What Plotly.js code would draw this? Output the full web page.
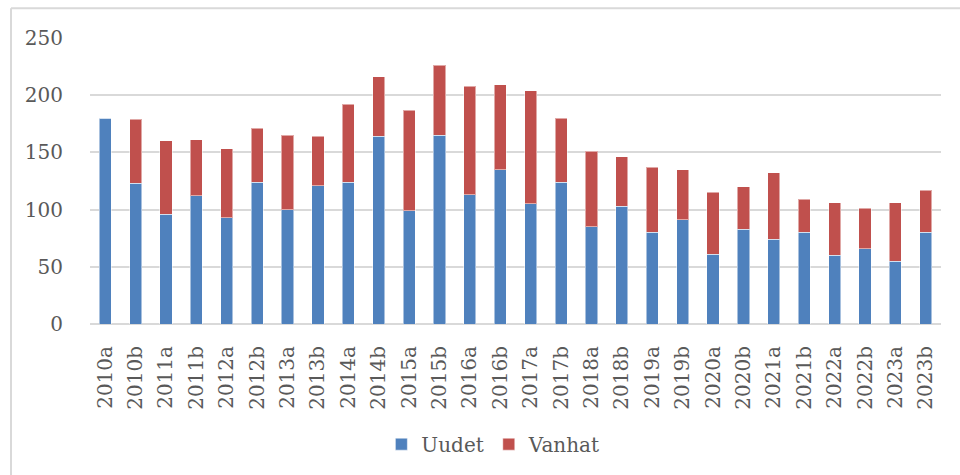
<!DOCTYPE html>
<html>
<head>
<meta charset="utf-8">
<script src="https://cdn.plot.ly/plotly-3.0.1.min.js"></script>
<style>html,body{margin:0;padding:0;background:#fff;}#chart{width:960px;height:475px;}</style>
</head>
<body>
<div id="chart"></div>
<script>
const categories = ["2010a","2010b","2011a","2011b","2012a","2012b","2013a","2013b","2014a","2014b","2015a","2015b","2016a","2016b","2017a","2017b","2018a","2018b","2019a","2019b","2020a","2020b","2021a","2021b","2022a","2022b","2023a","2023b"];
const uudet = [180,123,96,112,93,124,100,121,124,164,99,165,113,135,105,124,85,103,80,91,61,83,74,80,60,66,55,80];
const vanhat = [0,56,64,49,60,47,65,43,68,52,88,61,95,74,99,56,66,43,57,44,54,37,58,29,46,35,51,37];
const yTicks = [0,50,100,150,200,250];

const fontFam = '"DejaVu Serif", "Liberation Serif", serif';
const data = [
  {type:'bar', name:'Uudet', x:categories, y:uudet, marker:{color:'#4f81bd', line:{color:'rgba(255,255,255,0.5)', width:1}}, width:0.4},
  {type:'bar', name:'Vanhat', x:categories, y:vanhat, marker:{color:'#c0504d', line:{color:'rgba(255,255,255,0.5)', width:1}}, width:0.4}
];
const W = 851, H = 288;
const layout = {
  width:960, height:475,
  margin:{l:90, r:19, t:38, b:149},
  barmode:'stack',
  paper_bgcolor:'#ffffff', plot_bgcolor:'#ffffff',
  font:{family:fontFam, size:20, color:'#595959'},
  showlegend:true,
  legend:{orientation:'h', x:0.474, xanchor:'center', y:(326-447)/H, yanchor:'middle', font:{family:fontFam, size:20, color:'#595959'}, itemwidth:30, traceorder:'normal'},
  xaxis:{type:'category', tickangle:-90, ticks:'outside', ticklen:13, tickcolor:'rgba(0,0,0,0)', showgrid:false, showline:false, zeroline:false, tickfont:{family:fontFam, size:20, color:'#595959'}},
  yaxis:{range:[0,250], tickvals:yTicks, ticktext:yTicks.map(String), showgrid:true, gridcolor:'#d9d9d9', gridwidth:2, zeroline:true, zerolinecolor:'#d9d9d9', zerolinewidth:2, showline:false, ticks:'outside', ticklen:22, tickcolor:'rgba(0,0,0,0)', tickfont:{family:fontFam, size:20, color:'#595959'}},
  shapes:[
    {type:'line', xref:'paper', yref:'paper', x0:(11-90)/W, x1:(11-90)/W, y0:(326-8)/H, y1:(326-480)/H, line:{color:'#d9d9d9', width:2}},
    {type:'line', xref:'paper', yref:'paper', x0:(11-90)/W, x1:(965-90)/W, y0:(326-8)/H, y1:(326-8)/H, line:{color:'#d9d9d9', width:2}}
  ]
};
Plotly.newPlot('chart', data, layout, {displayModeBar:false, staticPlot:true});
</script>
</body>
</html>
